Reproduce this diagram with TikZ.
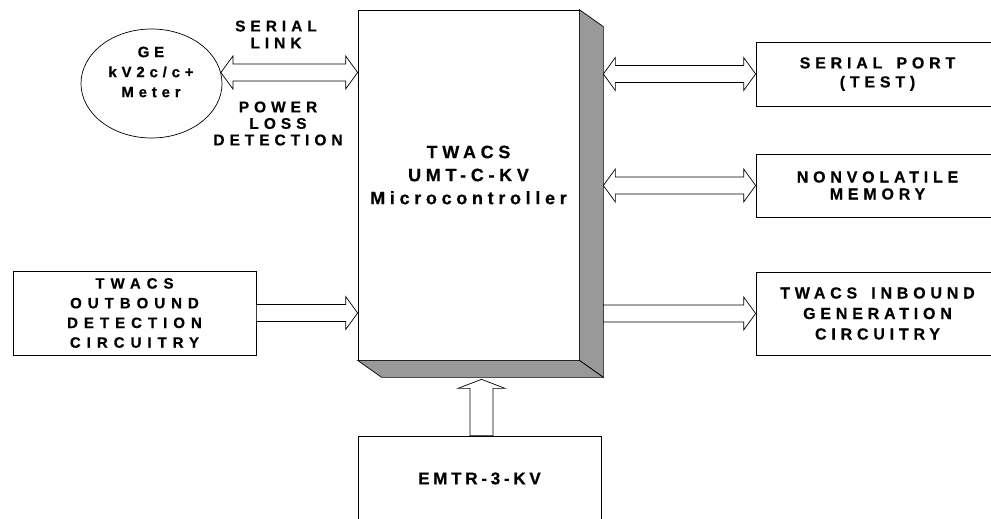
\documentclass[tikz,border=0pt]{standalone}
\usepackage{fontspec}
\setmainfont{Liberation Sans Bold}
\newfontfamily\fa{Liberation Sans Bold}[LetterSpace=32,FakeBold=0.5]
\newfontfamily\fb{Liberation Sans Bold}[LetterSpace=32,FakeBold=0.5]
\newfontfamily\fc{Liberation Sans Bold}[LetterSpace=30,FakeBold=0.5]
\newfontfamily\fd{Liberation Sans Bold}[LetterSpace=40,FakeBold=0.5]
\newfontfamily\fe{Liberation Sans Bold}[LetterSpace=22,FakeBold=0.5]
\newfontfamily\ff{Liberation Sans Bold}[LetterSpace=26,FakeBold=0.5]
\usetikzlibrary{calc,shapes.geometric}
\definecolor{sidegray}{gray}{0.6}
\newcommand\dblarr[2]{\draw[fat] let \p1=#1, \p2=#2 in
  (\x1,\y1) -- (\x1+12pt,\y1+16.5pt) -- (\x1+12pt,\y1+8.5pt) -- (\x2-12pt,\y1+8.5pt) --
  (\x2-12pt,\y1+16.5pt) -- (\x2,\y1) -- (\x2-12pt,\y1-16.5pt) -- (\x2-12pt,\y1-8.5pt) --
  (\x1+12pt,\y1-8.5pt) -- (\x1+12pt,\y1-16.5pt) -- cycle;}
\newcommand\rarr[2]{\draw[fat] let \p1=#1, \p2=#2 in
  (\x1,\y1+8.5pt) -- (\x2-12pt,\y1+8.5pt) -- (\x2-12pt,\y1+16.5pt) -- (\x2,\y1) --
  (\x2-12pt,\y1-16.5pt) -- (\x2-12pt,\y1-8.5pt) -- (\x1,\y1-8.5pt) -- cycle;}
\begin{document}
\begin{tikzpicture}[x=1pt,y=-1pt,line width=0.7pt,
  box/.style={draw,fill=white,inner sep=0pt,align=center},
  txt/.style={inner sep=0pt,align=center,font=\fa\fontsize{15.5}{17}\selectfont},
  fat/.style={draw,fill=white,line join=miter}]
\useasboundingbox (0,0) rectangle (991,519);
\clip (0,0) rectangle (991,519);
% main block
\node[box,minimum width=221pt,minimum height=350pt] (main) at (468.5,185) {};
\coordinate (bk) at ($(main.south east)+(24,17)$);
\draw[fill=sidegray] (main.north east) -- ++(24,17) -- (bk) -- (main.south east) -- cycle;
\draw[fill=sidegray] (main.south west) -- ++(24,17) -- (bk) -- (main.south east) -- cycle;
\node[txt,font=\ff\fontsize{18}{23}\selectfont] (maintxt) at (468.5,175)
  {TWACS\\UMT-C-KV\\Microcontroller};
% meter
\node[draw,ellipse,minimum width=141pt,minimum height=109pt,inner sep=0pt] (ell) at (151.5,83.5) {};
\node[txt,font=\fb\fontsize{15}{20}\selectfont] (elltxt) at (151,72) {GE\\kV2c/c+\\Meter};
\node[txt] (sl) at (276,34.5) {SERIAL\\LINK};
\node[txt,font=\fa\fontsize{15.5}{16.5}\selectfont] (pld) at (278,123.5) {POWER\\LOSS\\DETECTION};
% right boxes
\node[box,minimum width=243pt,minimum height=64pt,font=\fc\fontsize{16}{19}\selectfont] (sp) at (877.5,74) {SERIAL\hspace{0.3em} PORT\\(TEST)};
\node[box,minimum width=243pt,minimum height=63pt,font=\fc\fontsize{16}{17}\selectfont] (nv) at (877.5,185.5) {NONVOLATILE\\MEMORY};
\node[box,minimum width=243pt,minimum height=83pt,font=\fc\fontsize{16}{20.5}\selectfont] (ib) at (877.5,313.5) {TWACS\hspace{0.3em} INBOUND\\GENERATION\\CIRCUITRY};
% left box
\node[box,minimum width=243pt,minimum height=84pt,font=\fd\fontsize{15}{19.7}\selectfont] (ob) at (134.5,313) {TWACS\\OUTBOUND\\DETECTION\\CIRCUITRY};
% bottom box
\node[box,minimum width=243pt,minimum height=85pt,font=\fe\fontsize{17}{19}\selectfont] (em) at (479.5,478.5) {EMTR-3-KV};
% connectors
\coordinate (lk) at (ell.9);
\dblarr{(lk)}{(lk -| main.west)}
\dblarr{(sp.west -| bk)}{(sp.west)}
\dblarr{(nv.west -| bk)}{(nv.west)}
\rarr{(ib.west -| bk)}{(ib.west)}
\rarr{(ob.east)}{(ob.east -| main.west)}
\coordinate (ub) at ($(em.north)+(2,0)$);
\coordinate (ut) at ($(ub |- bk)+(0,2)$);
\draw[fat] let \p1=(ub), \p2=(ut) in (\x1-11.5pt,\y1) -- (\x1-11.5pt,\y2-9pt) -- (\x1-23.5pt,\y2-9pt)
  -- (\x1,\y2) -- (\x1+23.5pt,\y2-9pt) -- (\x1+11.5pt,\y2-9pt) -- (\x1+11.5pt,\y1) -- cycle;
\end{tikzpicture}
\end{document}
